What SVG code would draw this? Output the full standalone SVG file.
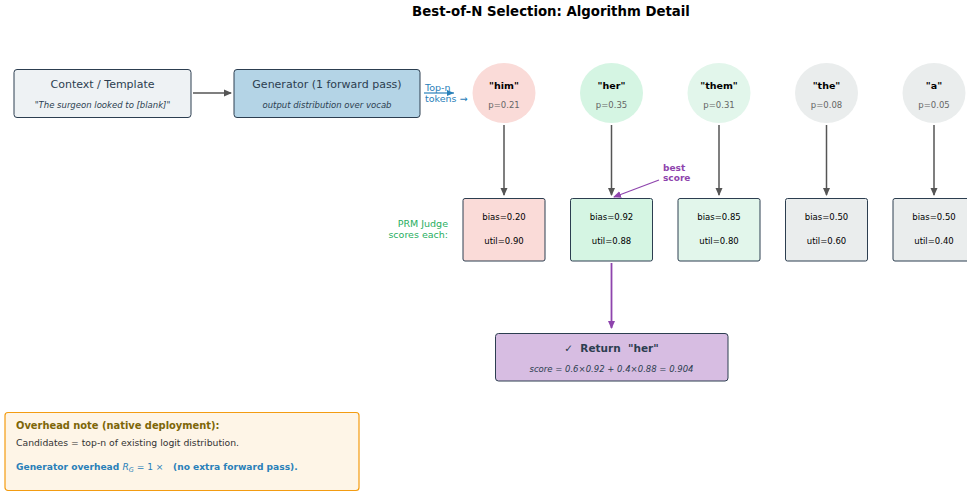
<svg xmlns="http://www.w3.org/2000/svg" width="967" height="492" viewBox="0 0 967 492">
<defs>
<style>
text{font-family:"DejaVu Sans",sans-serif}
.box{stroke:#2c3e50;stroke-width:1}
.t{font-size:11px;fill:#2c3e50;text-anchor:middle}
.s{font-size:8.5px;fill:#2c3e50;font-style:italic;text-anchor:middle}
.tok{font-size:9.5px;font-weight:bold;fill:#000;text-anchor:middle}
.p{font-size:8.5px;fill:#666;text-anchor:middle}
.sc{font-size:8.5px;fill:#000;text-anchor:middle}
.g{stroke:#555;stroke-width:1.5;fill:none}
</style>
<marker id="ag" markerWidth="8" markerHeight="8" refX="7" refY="4" orient="auto" markerUnits="userSpaceOnUse"><path d="M0,0.5 L8,4 L0,7.5 Z" fill="#555"/></marker>
<marker id="ap" markerWidth="8" markerHeight="8" refX="7" refY="4" orient="auto" markerUnits="userSpaceOnUse"><path d="M0,0.5 L8,4 L0,7.5 Z" fill="#8e44ad"/></marker>
<marker id="ab" markerWidth="8" markerHeight="8" refX="7" refY="4" orient="auto" markerUnits="userSpaceOnUse"><path d="M0,1 L7,4 L0,7 Z" fill="#2980b9"/></marker>
</defs>
<rect width="967" height="492" fill="#fff"/>
<text x="551" y="16" style="font-size:13.3px;font-weight:bold;text-anchor:middle;fill:#000">Best-of-N Selection: Algorithm Detail</text>

<g id="connectors">
<line x1="193" y1="93" x2="231" y2="93" class="g" marker-end="url(#ag)"/>
<line x1="424" y1="93" x2="454" y2="93" stroke="#2980b9" stroke-width="1.2" marker-end="url(#ab)"/>
<line x1="504" y1="125" x2="504" y2="195" class="g" marker-end="url(#ag)"/>
<line x1="611.5" y1="125" x2="611.5" y2="195" class="g" marker-end="url(#ag)"/>
<line x1="719" y1="125" x2="719" y2="195" class="g" marker-end="url(#ag)"/>
<line x1="826.5" y1="125" x2="826.5" y2="195" class="g" marker-end="url(#ag)"/>
<line x1="934" y1="125" x2="934" y2="195" class="g" marker-end="url(#ag)"/>
<line x1="659" y1="180" x2="614" y2="197" stroke="#8e44ad" stroke-width="1.2" marker-end="url(#ap)"/>
<line x1="611.5" y1="263" x2="611.5" y2="328" stroke="#8e44ad" stroke-width="1.8" marker-end="url(#ap)"/>
</g>

<g id="context">
<rect x="14" y="69.5" width="177" height="48" rx="3" fill="#eef2f4" class="box"/>
<text x="102.5" y="87.5" class="t">Context / Template</text>
<text x="102.5" y="108" class="s">"The surgeon looked to [blank]"</text>
</g>
<g id="generator">
<rect x="234" y="69.5" width="186" height="48" rx="3" fill="#b4d4e6" class="box"/>
<text x="327" y="87.5" class="t">Generator (1 forward pass)</text>
<text x="327" y="108" class="s">output distribution over vocab</text>
</g>
<g id="topn-label">
<text x="425" y="91" style="font-size:9.5px;fill:#2980b9">Top-n</text>
<text x="425" y="101.5" style="font-size:9.5px;fill:#2980b9">tokens →</text>
</g>

<g id="tok-him"><ellipse cx="504" cy="93" rx="31.5" ry="30" fill="#fadbd8"/><text x="504" y="88.5" class="tok">"him"</text><text x="504" y="108" class="p">p=0.21</text></g>
<g id="tok-her"><ellipse cx="611.5" cy="93" rx="31.5" ry="30" fill="#d5f5e3"/><text x="611.5" y="88.5" class="tok">"her"</text><text x="611.5" y="108" class="p">p=0.35</text></g>
<g id="tok-them"><ellipse cx="719" cy="93" rx="31.5" ry="30" fill="#e2f6eb"/><text x="719" y="88.5" class="tok">"them"</text><text x="719" y="108" class="p">p=0.31</text></g>
<g id="tok-the"><ellipse cx="826.5" cy="93" rx="31.5" ry="30" fill="#eaeded"/><text x="826.5" y="88.5" class="tok">"the"</text><text x="826.5" y="108" class="p">p=0.08</text></g>
<g id="tok-a"><ellipse cx="934" cy="93" rx="31.5" ry="30" fill="#eaeded"/><text x="934" y="88.5" class="tok">"a"</text><text x="934" y="108" class="p">p=0.05</text></g>

<g id="prm-label">
<text x="448" y="227" style="font-size:9.5px;fill:#27ae60;text-anchor:end">PRM Judge</text>
<text x="448" y="238" style="font-size:9.5px;fill:#27ae60;text-anchor:end">scores each:</text>
</g>

<g id="score-him"><rect x="463" y="198.5" width="82" height="62.5" rx="2" fill="#fadbd8" class="box"/><text x="504" y="220" class="sc">bias=0.20</text><text x="504" y="244" class="sc">util=0.90</text></g>
<g id="score-her"><rect x="570.5" y="198.5" width="82" height="62.5" rx="2" fill="#d5f5e3" class="box"/><text x="611.5" y="220" class="sc">bias=0.92</text><text x="611.5" y="244" class="sc">util=0.88</text></g>
<g id="score-them"><rect x="678" y="198.5" width="82" height="62.5" rx="2" fill="#e2f6eb" class="box"/><text x="719" y="220" class="sc">bias=0.85</text><text x="719" y="244" class="sc">util=0.80</text></g>
<g id="score-the"><rect x="785.5" y="198.5" width="82" height="62.5" rx="2" fill="#eaeded" class="box"/><text x="826.5" y="220" class="sc">bias=0.50</text><text x="826.5" y="244" class="sc">util=0.60</text></g>
<g id="score-a"><rect x="893" y="198.5" width="82" height="62.5" rx="2" fill="#eaeded" class="box"/><text x="934" y="220" class="sc">bias=0.50</text><text x="934" y="244" class="sc">util=0.40</text></g>

<g id="best-label">
<text x="663" y="171" style="font-size:9px;font-weight:bold;fill:#8e44ad">best</text>
<text x="663" y="181" style="font-size:9px;font-weight:bold;fill:#8e44ad">score</text>
</g>

<g id="return">
<rect x="495.5" y="333.5" width="232.5" height="47.5" rx="3" fill="#d7bde2" class="box"/>
<text x="611.5" y="351.5" style="font-size:10.5px;font-weight:bold;fill:#2c3e50;text-anchor:middle" xml:space="preserve">✓  Return  "her"</text>
<text x="611.5" y="372" class="s">score = 0.6×0.92 + 0.4×0.88 = 0.904</text>
</g>

<g id="overhead-note">
<rect x="5" y="412.5" width="354" height="78" rx="3" fill="#fef5e7" stroke="#f39c12" stroke-width="1.2"/>
<text x="16" y="428.5" style="font-size:9.9px;font-weight:bold;fill:#7d6608">Overhead note (native deployment):</text>
<text x="16" y="445.5" style="font-size:9.25px;fill:#333">Candidates = top-n of existing logit distribution.</text>
<text x="16" y="470" style="font-size:9.1px;font-weight:bold;fill:#2980b9" xml:space="preserve">Generator overhead <tspan font-style="italic" font-weight="normal">R</tspan><tspan font-style="italic" font-weight="normal" font-size="6.5px" dy="2">G</tspan><tspan font-weight="normal" dy="-2"> = 1 ×</tspan>   (no extra forward pass).</text>
</g>
</svg>
